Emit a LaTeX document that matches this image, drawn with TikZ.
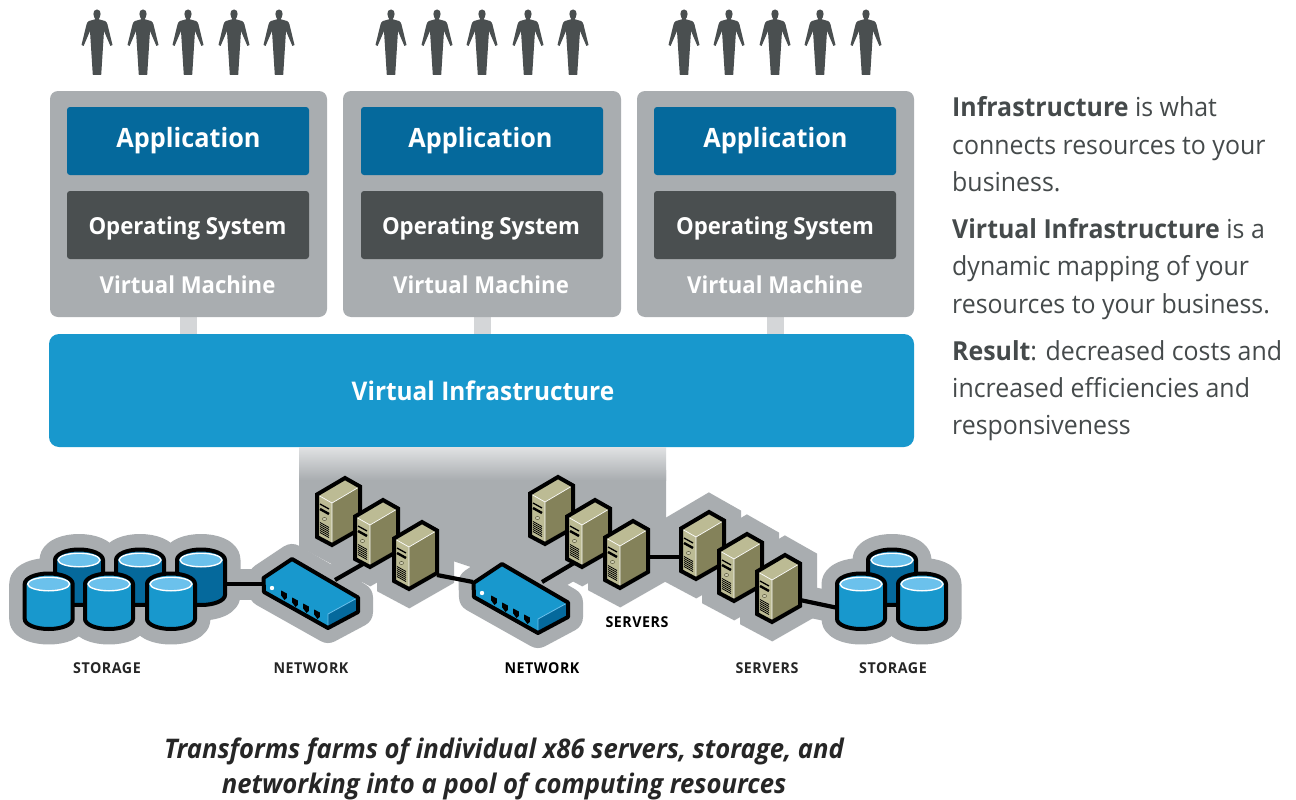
\documentclass[tikz,border=0pt]{standalone}
\usepackage{fontspec}
\setmainfont[FakeStretch=0.95]{Open Sans}
\definecolor{halo}{HTML}{A9ADB0}
\definecolor{deep}{HTML}{05699C}
\definecolor{sky}{HTML}{1898CD}
\definecolor{pale}{HTML}{6BC1EC}
\definecolor{slate}{HTML}{4A4F50}
\definecolor{link}{HTML}{D4D6D8}
\definecolor{tanlight}{HTML}{BCBB94}
\definecolor{tandark}{HTML}{84825A}
\definecolor{ink}{HTML}{454A4B}
\newcommand\fs[1]{\fontsize{#1}{#1}\selectfont}
\newcommand\srvpath{(0,0) -- (15,8.5) -- (15,51) -- (-13,67) -- (-28,59) -- (-28,16.5) -- cycle}
\newcommand\swpath{(1.5,21) -- (30,2) -- (96,40.5) -- (96,55) -- (66,71) -- (2,35) -- cycle}
\newcommand\cylpath{(-24,0) -- (-24,35) arc[start angle=180,end angle=360,x radius=24pt,y radius=10pt] -- (24,0) arc[start angle=0,end angle=180,x radius=24pt,y radius=10.5pt] -- cycle}
\newcommand\srvhalo[2]{\draw[halo,fill=halo,line width=34pt,line join=miter,miter limit=10,shift={(#1,#2)}] \srvpath;}
\newcommand\swhalo[2]{\draw[halo,fill=halo,line width=30pt,line join=round,shift={(#1,#2)}] \swpath;}
\newcommand\cylhalo[2]{\draw[halo,fill=halo,line width=31pt,line join=round,shift={(#1,#2)}] \cylpath;}
\newcommand\srv[2]{\begin{scope}[shift={(#1,#2)}]
 \fill[tanlight] (-28,16.5) -- (0,0) -- (15,8.5) -- (-13,25) -- (-13,67) -- (-28,59) -- cycle;
 \fill[tandark] (-13,25) -- (15,8.5) -- (15,51) -- (-13,67) -- cycle;
 \draw[white,line width=.7pt] (-28,16.5) -- (-13,25) -- (15,8.5) (-13,25) -- (-13,67);
 \draw[black,line width=1.3pt] (-25,26) -- (-16,31);
 \draw[black,line width=2.4pt] (-25,31) -- (-16,36);
 \draw[tandark!70!black,fill=tanlight!70,line width=.5pt] (-20.5,41) ellipse[x radius=2pt,y radius=1.6pt];
 \foreach \k in {0,...,5} \draw[black,line width=.8pt] (-25,44.5+2*\k) -- (-16,49.5+2*\k);
 \draw[black,line width=4pt,line join=miter,miter limit=10] \srvpath;
\end{scope}}
\newcommand\sw[2]{\begin{scope}[shift={(#1,#2)}]
 \fill[sky] \swpath;
 \fill[deep] (66,57) -- (96,40.5) -- (96,55) -- (66,71) -- cycle;
 \draw[pale,line width=.8pt] (66,70) -- (66,57) -- (96,40.5);
 \fill[white] (10,31) circle[radius=2.2pt];
 \foreach \px/\py in {22/37,33/44,44/50,55/56}
  \fill[black] (\px-2.8,\py-3.5) -- (\px+2.8,\py-.5) -- (\px+2.8,\py+4) -- (\px+.5,\py+6) -- (\px-2.8,\py+1.5) -- cycle;
 \draw[black,line width=4pt,line join=round] \swpath;
\end{scope}}
\newcommand\cyl[3]{\begin{scope}[shift={(#1,#2)}]
 \fill[#3] \cylpath;
 \draw[white,fill=pale,line width=1.4pt] (0,0) ellipse[x radius=21pt,y radius=6.8pt];
 \draw[black,line width=4pt,line join=round] \cylpath;
\end{scope}}
\newcommand\person[1]{\fill[slate,shift={(#1,0)}] (0,9.5) .. controls (2.6,9.5) and (3.7,11.5) .. (3.6,14) .. controls (3.5,16.5) and (2.2,18.5) .. (1.6,19.2) -- (8,21) .. controls (9.5,21.5) and (10,23) .. (10.5,24.5) -- (15.5,45) -- (13.4,46) -- (7,31) -- (4.2,75) -- (-4.2,75) -- (-7,31) -- (-13.4,46) -- (-15.5,45) -- (-10.5,24.5) .. controls (-10,23) and (-9.5,21.5) .. (-8,21) -- (-1.6,19.2) .. controls (-2.2,18.5) and (-3.5,16.5) .. (-3.6,14) .. controls (-3.7,11.5) and (-2.6,9.5) .. (0,9.5) -- cycle;}
\tikzset{
 vmbox/.style={fill=halo,rounded corners=8pt},
 appbox/.style={fill=deep,rounded corners=3pt},
 osbox/.style={fill=slate,rounded corners=3pt},
 wire/.style={black,line width=4.2pt},
 wirehalo/.style={halo,line width=31pt},
 cap/.style={white,font=\bfseries\fs{#1},inner sep=0pt},
 caplabel/.style={font=\bfseries\fs{15}\addfontfeature{LetterSpace=3.5},inner sep=0pt},
 bodytext/.style={anchor=base west,inner sep=0pt,text=ink,font=\fs{26.2}},
 foot/.style={inner sep=0pt,text=black!85,font=\bfseries\itshape\fs{27}}
}
\begin{document}
\begin{tikzpicture}[x=1pt,y=-1pt]
\useasboundingbox (0,0) rectangle (1296,800);
\fill[white] (0,0) rectangle (1296,800);
% people
\foreach \c in {97,143,188,234,279,391,437,482,528,573,684,729,775,820,866}{\person{\c}}
% links
\foreach \a in {180,474,767}{\fill[link] (\a,317) rectangle (\a+17,335);}
% virtual machines
\foreach \a/\b/\n in {50/327/1,343/621/2,637/914/3}{\fill[vmbox] (\a,91) rectangle (\b,317);}
\foreach \a/\b in {67/309,361/603,654/896}{
 \fill[appbox] (\a,107) rectangle (\b,175);
 \fill[osbox] (\a,191) rectangle (\b,259);
}
\node[cap=26.6] (a1) at (188.5,141) {Application};
\node[cap=26.6] (a2) at (480.5,141) {Application};
\node[cap=26.6] (a3) at (775.5,141) {Application};
\node[cap=23.4] (o1) at (187.5,228) {Operating System};
\node[cap=23.4] (o2) at (481,228) {Operating System};
\node[cap=23.4] (o3) at (775,228) {Operating System};
\node[cap=23.3] (m1) at (187.5,285) {Virtual Machine};
\node[cap=23.3] (m2) at (481,285) {Virtual Machine};
\node[cap=23.3] (m3) at (775,285) {Virtual Machine};
% virtual infrastructure
\fill[sky,rounded corners=10pt] (49,334) rectangle (914,447);
\node[cap=25.7] (vi) at (483,391) {Virtual Infrastructure};
% hardware coordinates
\coordinate (st1) at (226,584); \coordinate (sw1a) at (263,584);
\coordinate (sw1b) at (335,580); \coordinate (sv1b) at (363,564);
\coordinate (sv1c) at (437,575); \coordinate (sw2a) at (473,582);
\coordinate (sw2b) at (542,582); \coordinate (sv2b) at (574,563);
\coordinate (sv2c) at (648,557); \coordinate (sv3a) at (682,557);
\coordinate (sv3c) at (800,600); \coordinate (st2) at (838,608);
% halo
\fill[halo] (299,470) -- (666,470) -- (666,570) -- (480,570) -- (450,560) -- (340,560) -- (299,548) -- cycle;
\foreach \x/\y in {345/478,383/500,422/522,558/477,595/500,633/521,709/512,747/534,785/555}{\srvhalo{\x}{\y}}
\swhalo{262}{557}\swhalo{472}{562}
\foreach \x/\y in {79/560,140/560,201/560,48.7/584,109/584,171/584,892/560,861/584,922/584}{\cylhalo{\x}{\y}}
\draw[wirehalo] (st1) -- (sw1a);
\draw[wirehalo] (sw1b) -- (sv1b);
\draw[wirehalo] (sw2b) -- (sv2b);
\draw[wirehalo] (sv2c) -- (sv3a);
\draw[wirehalo] (sv3c) -- (st2);
\fill[top color=link!70!white,bottom color=halo] (299,447) rectangle (666,480);
% connectors
\draw[wire] (st1) -- (sw1a);
\draw[wire] (sw1b) -- (sv1b);
\draw[wire] (sv1c) -- (sw2a);
\draw[wire] (sw2b) -- (sv2b);
\draw[wire] (sv2c) -- (sv3a);
\draw[wire] (sv3c) -- (st2);
% devices
\foreach \x/\y in {345/478,383/500,422/522,558/477,595/500,633/521,709/512,747/534,785/555}{\srv{\x}{\y}}
\sw{262}{557}\sw{472}{562}
\foreach \x in {79,140,201}{\cyl{\x}{560}{deep}}
\foreach \x in {48.7,109,171}{\cyl{\x}{584}{sky}}
\cyl{892}{560}{deep}
\cyl{861}{584}{sky}\cyl{922}{584}{sky}
% labels
\node[caplabel,text=black!85] (l1) at (107,668) {STORAGE};
\node[caplabel,text=black!85] (l2) at (311,668) {NETWORK};
\node[caplabel,text=black] (l3) at (542,668) {NETWORK};
\node[caplabel,text=black] (l4) at (637,622) {SERVERS};
\node[caplabel,text=black!85] (l5) at (767,668) {SERVERS};
\node[caplabel,text=black!85] (l6) at (893,668) {STORAGE};
% right text
\node[bodytext] (t1) at (952,117) {\textbf{Infrastructure} is what};
\node[bodytext] (t2) at (952,154) {connects resources to your};
\node[bodytext] (t3) at (952,191) {business.};
\node[bodytext] (t4) at (952,238) {\textbf{Virtual Infrastructure} is a};
\node[bodytext] (t5) at (952,275) {dynamic mapping of your};
\node[bodytext] (t6) at (952,313) {resources to your business.};
\node[bodytext] (t7) at (952,360) {\textbf{Result}: decreased costs and};
\node[bodytext] (t8) at (952,397) {increased efficiencies and};
\node[bodytext] (t9) at (952,434) {responsiveness};
% footer
\node[foot] (f1) at (504,751) {Transforms farms of individual x86 servers, storage, and};
\node[foot] (f2) at (504,786) {networking into a pool of computing resources};
\end{tikzpicture}
\end{document}
